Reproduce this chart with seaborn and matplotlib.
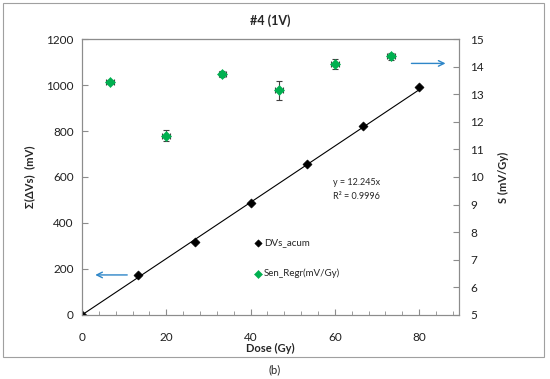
import numpy as np
import pandas as pd
import matplotlib
matplotlib.use("Agg")
import matplotlib.pyplot as plt
import seaborn as sns
from matplotlib.patches import Rectangle

# cumulative DVs (left axis)
dose_acum = [0, 13.3, 26.7, 40, 53.3, 66.7, 80]
dvs_acum = [0, 173, 317, 487, 655, 820, 990]

# sensitivity from regression (right axis)
dose_sen = [6.7, 20, 33.3, 46.7, 60, 73.3]
sen_regr = [13.45, 11.5, 13.73, 13.14, 14.08, 14.38]
sen_err = [0.08, 0.2, 0.1, 0.35, 0.18, 0.13]
dose_err = [0.9, 0.9, 0.9, 0.9, 0.9, 0.9]

slope = 12.245
r2 = 0.9996

sns.set_style("white")
plt.rcParams['font.family'] = ['Lato', 'DejaVu Sans']

fig = plt.figure(figsize=(5.5, 3.79), dpi=100)
ax = fig.add_axes([0.149, 0.169, 0.686, 0.728])
ax2 = ax.twinx()

gray = '#8c8c8c'
green = '#00b050'

# fitted line through origin
fit_x = np.array([0, 80])
ax.plot(fit_x, slope * fit_x, color='black', lw=0.8, zorder=2)

df1 = pd.DataFrame({'Dose': dose_acum, 'DVs': dvs_acum})
sns.scatterplot(data=df1, x='Dose', y='DVs', ax=ax, marker='D', s=22,
                color='black', edgecolor='black', zorder=3, label='DVs_acum',
                legend=False)

df2 = pd.DataFrame({'Dose': dose_sen, 'S': sen_regr})
ax2.errorbar(dose_sen, sen_regr, yerr=sen_err, xerr=dose_err, fmt='none',
             ecolor='#404040', elinewidth=0.8, capsize=2, capthick=0.8, zorder=2)
sns.scatterplot(data=df2, x='Dose', y='S', ax=ax2, marker='D', s=26,
                color=green, edgecolor=green, zorder=3, label='Sen_Regr(mV/Gy)',
                legend=False)

ax.set_xlim(0, 89.5)
ax.set_ylim(0, 1200)
ax2.set_ylim(5, 15)
ax.set_xticks([0, 20, 40, 60, 80])
ax.set_xticks(np.arange(0, 90, 4), minor=True)
ax.set_yticks(np.arange(0, 1201, 200))
ax2.set_yticks(np.arange(5, 16, 1))

for a in (ax, ax2):
    for s in a.spines.values():
        s.set_color(gray)
        s.set_linewidth(0.8)
    a.tick_params(direction='in', length=4, width=0.8, color=gray,
                  labelsize=8.5, colors='#202020')
ax.spines['top'].set_color('#404040')
ax.tick_params(axis='x', which='minor', direction='in', length=3, width=0.6,
               color=gray, bottom=True)
ax.tick_params(axis='x', which='major', bottom=True, pad=12)
ax.tick_params(axis='y', left=True, pad=6)
ax2.tick_params(axis='y', right=True, pad=8)

ax.set_xlabel('Dose (Gy)', fontsize=8, fontweight='bold', labelpad=0)
ax.set_ylabel('Σ(ΔVs)  (mV)', fontsize=8, fontweight='bold', labelpad=8)
ax2.set_ylabel('S (mV/Gy)', fontsize=8, fontweight='bold', labelpad=10)
ax.set_title('#4 (1V)', fontsize=9, fontweight='bold', pad=10)

ax.text(59.5, 574, 'y = 12.245x', fontsize=6.5, va='center')
ax.text(59.5, 517, 'R² = 0.9996', fontsize=6.5, va='center')

arrow_color = '#2e86c8'
ax.annotate('', xy=(86.9, 1094), xytext=(77.5, 1094),
            arrowprops=dict(arrowstyle='->', color=arrow_color, lw=1))
ax.annotate('', xy=(2.5, 174), xytext=(11.4, 174),
            arrowprops=dict(arrowstyle='->', color=arrow_color, lw=1))

h1, l1 = ax.get_legend_handles_labels()
h2, l2 = ax2.get_legend_handles_labels()
ax2.legend(h1 + h2, l1 + l2, loc='upper left', bbox_to_anchor=(0.43, 0.31),
           frameon=False, fontsize=7, labelspacing=2.2, handletextpad=0.1,
           handlelength=1, markerscale=0.8)

fig.add_artist(Rectangle((3 / 550, 1 - 357 / 379), 541 / 550, 354 / 379,
                         transform=fig.transFigure, fill=False,
                         edgecolor='#a0a0a0', lw=0.8))
fig.text(0.5, 1 - 370 / 379, '(b)', ha='center', va='center', fontsize=8)

fig.savefig('out.png', dpi=100)
